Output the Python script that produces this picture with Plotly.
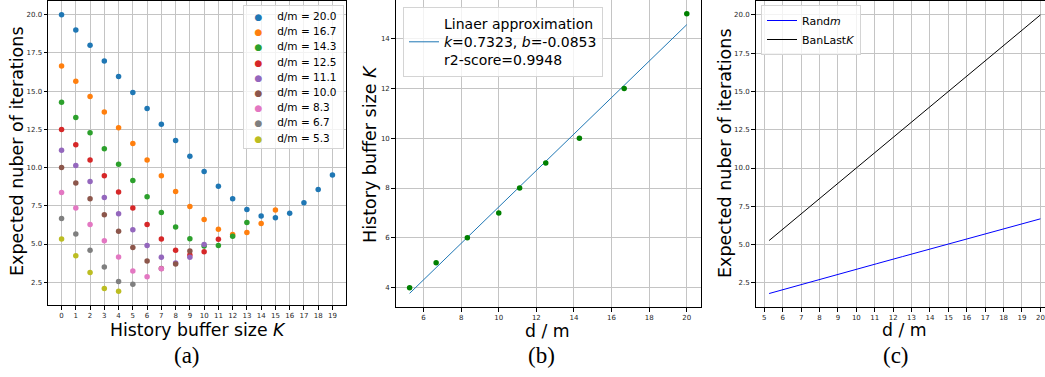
import plotly.graph_objects as go

# ---------------- data ----------------
dm_labels = ["20.0", "16.7", "14.3", "12.5", "11.1", "10.0", "8.3", "6.7", "5.3"]
dm_values = [20.0, 16.67, 14.29, 12.5, 11.11, 10.0, 8.33, 6.67, 5.26]
colors = ["#1f77b4", "#ff7f0e", "#2ca02c", "#d62728", "#9467bd",
          "#8c564b", "#e377c2", "#7f7f7f", "#bcbd22"]

iters_20_0 = [20.0, 19.0, 18.0, 16.98, 15.96, 14.91, 13.87, 12.83, 11.78, 10.74,
              9.74, 8.78, 7.96, 7.26, 6.83, 6.72, 7.02, 7.70, 8.57, 9.52]
iters_16_7 = [16.65, 15.65, 14.65, 13.63, 12.61, 11.57, 10.50, 9.46, 8.43, 7.46,
              6.61, 5.96, 5.63, 5.76, 6.35, 7.22]
iters_14_3 = [14.28, 13.28, 12.28, 11.24, 10.22, 9.15, 8.09, 7.07, 6.11, 5.35,
              4.87, 4.90, 5.50, 6.41]
iters_12_5 = [12.5, 11.5, 10.5, 9.46, 8.41, 7.35, 6.28, 5.33, 4.60, 4.28, 4.50, 5.31]
iters_11_1 = [11.13, 10.13, 9.09, 8.04, 6.98, 5.93, 4.91, 4.13, 3.76, 4.13, 4.97]
iters_10_0 = [10.0, 9.0, 7.96, 6.91, 5.83, 4.78, 3.89, 3.40, 3.69, 4.54]
iters_8_3 = [8.37, 7.35, 6.28, 5.22, 4.15, 3.24, 2.86, 3.38]
iters_6_7 = [6.67, 5.65, 4.59, 3.50, 2.54, 2.37]
iters_5_3 = [5.33, 4.24, 3.13, 2.09, 1.91]
series_a = [iters_20_0, iters_16_7, iters_14_3, iters_12_5, iters_11_1,
            iters_10_0, iters_8_3, iters_6_7, iters_5_3]

best_K = [15, 12, 10, 9, 8, 7, 6, 5, 4]
fit_x = [5.26, 20.0]
fit_y = [3.77, 14.56]
fit_k, fit_b, fit_r2 = "0.7323", "-0.0853", "0.9948"

c_x = [5.26, 6.67, 8.33, 10.0, 11.11, 12.5, 14.29, 16.67, 20.0]
rand_m = [1.80, 2.28, 2.84, 3.38, 3.75, 4.21, 4.80, 5.58, 6.68]
ban_last_k = [5.26, 6.67, 8.33, 10.0, 11.11, 12.5, 14.29, 16.67, 20.0]

W, H = 1045, 377
FONT = "DejaVu Sans"


def px(x):
    return x / W


def py(y):
    return 1 - y / H


fig = go.Figure()

# panel (a)
for lab, col, vals in zip(dm_labels, colors, series_a):
    fig.add_trace(go.Scatter(
        x=list(range(len(vals))), y=vals, mode="markers",
        marker=dict(color=col, size=5.5), name=f"d/m = {lab}",
        showlegend=False, xaxis="x", yaxis="y"))

# panel (b)
fig.add_trace(go.Scatter(
    x=fit_x, y=fit_y, mode="lines", line=dict(color="#1f77b4", width=1),
    name=f"Linaer approximation<br><i>k</i>={fit_k}, <i>b</i>={fit_b}<br>r2-score={fit_r2}",
    xaxis="x2", yaxis="y2", legend="legend2"))
fig.add_trace(go.Scatter(
    x=dm_values, y=best_K, mode="markers", marker=dict(color="green", size=5.5),
    showlegend=False, xaxis="x2", yaxis="y2"))

# panel (c)
fig.add_trace(go.Scatter(
    x=c_x, y=rand_m, mode="lines", line=dict(color="blue", width=1),
    name="Rand<i>m</i>", xaxis="x3", yaxis="y3", legend="legend3"))
fig.add_trace(go.Scatter(
    x=c_x, y=ban_last_k, mode="lines", line=dict(color="black", width=1),
    name="BanLast<i>K</i>", xaxis="x3", yaxis="y3", legend="legend3"))

axis_common = dict(
    showline=True, linecolor="black", linewidth=1, mirror=True,
    ticks="outside", ticklen=3.5, tickwidth=0.8, tickcolor="black",
    showgrid=True, gridcolor="#c4c4c4", gridwidth=1.2, zeroline=False,
    tickfont=dict(family=FONT, size=7, color="#262626"),
)

fig.update_layout(
    width=W, height=H, autosize=False,
    margin=dict(l=0, r=0, t=0, b=0),
    paper_bgcolor="white", plot_bgcolor="white",
    font=dict(family=FONT, color="black"),
    xaxis=dict(axis_common, domain=[px(48), px(346)], range=[-0.95, 19.95],
               tickmode="linear", tick0=0, dtick=1, anchor="y"),
    yaxis=dict(axis_common, domain=[py(305), py(1)], range=[1.01, 20.9],
               tickmode="linear", tick0=2.5, dtick=2.5, tickformat=".1f", anchor="x"),
    xaxis2=dict(axis_common, domain=[px(395.7), px(700.7)], range=[4.52, 20.74],
                tickmode="linear", tick0=6, dtick=2, anchor="y2"),
    yaxis2=dict(axis_common, domain=[py(307.3), 1.0], range=[3.21, 15.55],
                tickmode="linear", tick0=4, dtick=2, anchor="x2"),
    xaxis3=dict(axis_common, domain=[px(755.5), 1.0], range=[4.52, 20.25],
                tickmode="linear", tick0=5, dtick=1, anchor="y3"),
    yaxis3=dict(axis_common, domain=[py(307), py(1)], range=[0.92, 20.91],
                tickmode="linear", tick0=2.5, dtick=2.5, tickformat=".1f", anchor="x3"),
    legend2=dict(x=px(403), y=py(7), xanchor="left", yanchor="top",
                 font=dict(family=FONT, size=14, color="black"),
                 bgcolor="rgba(255,255,255,0.8)", bordercolor="#d4d4d4", borderwidth=1),
    legend3=dict(x=px(761), y=py(5), xanchor="left", yanchor="top",
                 font=dict(family=FONT, size=11, color="black"),
                 bgcolor="rgba(255,255,255,0.8)", bordercolor="#d4d4d4", borderwidth=1),
)

# panel (a) legend built from the series labels/colours
NB = "\u00a0"
leg_lines = []
for lab, col in zip(dm_labels, colors):
    leg_lines.append(
        NB * 2 + f"<span style='color:{col};font-size:9px'>\u25cf</span>" + NB * 4
        + f"<span style='font-size:10.5px'>d/m = {lab}</span>" + NB)
fig.add_annotation(
    xref="paper", yref="paper", x=px(243), y=py(5), xanchor="left", yanchor="top",
    text="<br>".join(leg_lines), showarrow=False, align="left",
    font=dict(family=FONT, size=11.7, color="black"),
    bgcolor="rgba(255,255,255,0.8)", bordercolor="#d4d4d4", borderwidth=1, borderpad=3)

# axis titles
def title(text, x, y, angle=0, size=17.5):
    fig.add_annotation(xref="paper", yref="paper", x=px(x), y=py(y),
                       xanchor="center", yanchor="middle", text=text, textangle=angle,
                       showarrow=False, font=dict(family=FONT, size=size, color="black"))

title("History buffer size <i>K</i>", 197.5, 329.5, size=17.3)
title("Expected nuber of iterations", 17, 151, angle=-90)
title("History buffer size <i>K</i>", 370, 154, angle=-90, size=17.5)
title("d / m", 547.7, 330.5, size=17.3)
title("Expected nuber of iterations", 725, 153, angle=-90)
title("d / m", 904.3, 330.0, size=17.3)

for lab, x in [("(a)", 186.7), ("(b)", 541.3), ("(c)", 896.2)]:
    fig.add_annotation(xref="paper", yref="paper", x=px(x), y=py(355.5),
                       xanchor="center", yanchor="middle", text=lab, showarrow=False,
                       font=dict(family="Liberation Serif", size=23, color="black"))

fig.write_html("out.html", config={"displayModeBar": False},
               post_script="document.body.style.margin='0';document.body.style.overflow='hidden';")
